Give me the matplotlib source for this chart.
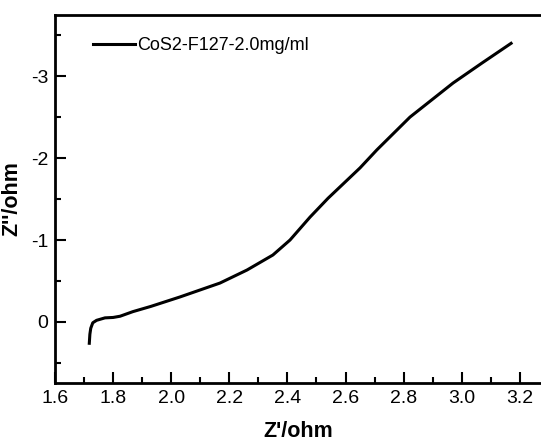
import numpy as np
import matplotlib
matplotlib.use("Agg")
import matplotlib.pyplot as plt
from matplotlib.ticker import MultipleLocator

plt.rcParams['font.family'] = ['Liberation Sans', 'DejaVu Sans']

# ===== 数据 =====
z_real = [1.718, 1.720, 1.723, 1.730, 1.743, 1.772, 1.800, 1.824, 1.868, 1.930,
          2.030, 2.099, 2.168, 2.261, 2.350, 2.409, 2.478, 2.540, 2.650, 2.708,
          2.822, 2.970, 3.070, 3.170]
z_imag = [0.26, 0.15, 0.077, 0.01, -0.02, -0.05, -0.055, -0.07, -0.126, -0.19,
          -0.305, -0.39, -0.475, -0.634, -0.817, -1.00, -1.28, -1.51, -1.88, -2.10,
          -2.50, -2.915, -3.16, -3.40]
label = "CoS2-F127-2.0mg/ml"

fig = plt.figure(figsize=(5.41, 4.43), dpi=100)
ax = fig.add_axes([0.1017, 0.1354, 0.8983, 0.8306])

ax.plot(z_real, z_imag, "k-", linewidth=2.2, label=label)

ax.set_xlim(1.6, 3.273)
ax.set_ylim(0.745, -3.745)
ax.xaxis.set_major_locator(MultipleLocator(0.2))
ax.xaxis.set_minor_locator(MultipleLocator(0.1))
ax.yaxis.set_major_locator(MultipleLocator(1))
ax.yaxis.set_minor_locator(MultipleLocator(0.5))
ax.xaxis.set_major_formatter(matplotlib.ticker.FormatStrFormatter("%.1f"))
ax.yaxis.set_major_formatter(matplotlib.ticker.FormatStrFormatter("%d"))

ax.tick_params(which="major", direction="in", length=8, width=1.5, labelsize=14, pad=5)
ax.tick_params(which="minor", direction="in", length=4, width=1.5)
for side in ["left", "bottom", "top"]:
    ax.spines[side].set_linewidth(2)
ax.spines["right"].set_visible(False)

ax.set_xlabel("Z'/ohm", fontsize=15.5, fontweight="bold", labelpad=10)
ax.set_ylabel("Z''/ohm", fontsize=15.5, fontweight="bold", labelpad=6)

ax.legend(loc="upper left", frameon=False, fontsize=13, handlelength=2.3,
          handletextpad=0.15, bbox_to_anchor=(0.045, 0.985))

plt.savefig("out.png", dpi=100)
